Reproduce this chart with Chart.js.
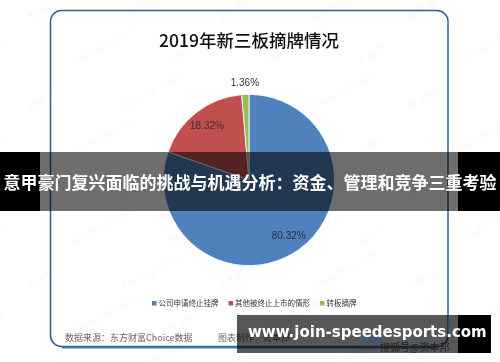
<!DOCTYPE html>
<html><head><meta charset="utf-8">
<script src="https://cdn.jsdelivr.net/npm/chart.js@4/dist/chart.umd.min.js"></script>
<style>html,body{margin:0;padding:0;background:#fff}#wrap{width:500px;height:362px}</style>
</head><body><div id="wrap"><canvas id="c" width="500" height="362"></canvas></div>
<script>
const chartTitle = "2019年新三板摘牌情况";
const categories = ["公司申请终止挂牌", "其他被终止上市的情形", "转板摘牌"];
const values = [80.32, 18.32, 1.36];
const valueLabels = ["80.32%", "18.32%", "1.36%"];
const colors = ["#4f81bd", "#c0504d", "#9bbb59"];
const sourceText = "数据来源：东方财富Choice数据";
const creditText = "图表制作：资本邦";
const bannerText = "意甲豪门复兴面临的挑战与机遇分析：资金、管理和竞争三重考验";
const siteText = "www.join-speedesports.com";

const CJK = '"Noto Sans CJK SC", "Noto Sans", sans-serif';

function roundRect(ctx, x, y, w, h, r) {
  ctx.beginPath();
  ctx.moveTo(x + r, y);
  ctx.lineTo(x + w - r, y);
  ctx.arcTo(x + w, y, x + w, y + r, r);
  ctx.lineTo(x + w, y + h - r);
  ctx.arcTo(x + w, y + h, x + w - r, y + h, r);
  ctx.lineTo(x + r, y + h);
  ctx.arcTo(x, y + h, x, y + h - r, r);
  ctx.lineTo(x, y + r);
  ctx.arcTo(x, y, x + r, y, r);
  ctx.closePath();
}

const decor = {
  id: 'decor',
  beforeDraw(chart) {
    const ctx = chart.ctx;
    ctx.save();
    ctx.fillStyle = '#fff';
    ctx.fillRect(0, 0, chart.width, chart.height);
    // faint watermarks
    ctx.fillStyle = 'rgba(0,0,0,0.04)';
    ctx.font = '10px "DejaVu Sans", sans-serif';
    for (let row = -1; row < 9; row++) {
      for (let col = -1; col < 6; col++) {
        ctx.save();
        const x = col * 95 + (row % 2) * 45 + 30;
        const y = row * 45 + 20;
        ctx.translate(x, y);
        ctx.rotate(-0.5);
        ctx.fillText((row + col) % 2 ? "Chinaipo.com" : "资本邦", 0, 0);
        ctx.restore();
      }
    }
    // card border
    ctx.strokeStyle = '#2f5f8f';
    ctx.lineWidth = 1.5;
    roundRect(ctx, 50.5, 10.5, 397.5, 336, 11);
    ctx.stroke();
    ctx.strokeStyle = '#3f78a8';
    ctx.lineWidth = 2;
    ctx.beginPath();
    ctx.moveTo(62, 347.5); ctx.lineTo(436, 347.5);
    ctx.stroke();
    // title
    ctx.fillStyle = '#111';
    ctx.font = '500 17.5px ' + CJK;
    ctx.textAlign = 'center';
    ctx.textBaseline = 'middle';
    ctx.fillText(chartTitle, 249, 40);
    ctx.restore();
  },
  afterDatasetsDraw(chart) {
    const ctx = chart.ctx;
    const meta = chart.getDatasetMeta(0);
    ctx.save();
    ctx.font = '10px "Liberation Sans", sans-serif';
    ctx.textAlign = 'center';
    ctx.textBaseline = 'middle';
    meta.data.forEach((arc, i) => {
      const p = arc.getProps(['x', 'y', 'startAngle', 'endAngle', 'outerRadius'], true);
      const mid = (p.startAngle + p.endAngle) / 2;
      const f = values[i] < 5 ? 1.13 : 0.8;
      const x = p.x + Math.cos(mid) * p.outerRadius * f;
      const y = p.y + Math.sin(mid) * p.outerRadius * f;
      ctx.fillStyle = i === 0 ? '#22324a' : '#333';
      ctx.fillText(valueLabels[i], x, y);
    });
    // legend
    ctx.font = '7.5px ' + CJK;
    ctx.textAlign = 'left';
    let lx = 152;
    categories.forEach((c, i) => {
      ctx.fillStyle = colors[i];
      ctx.fillRect(lx, 301, 4.5, 4.5);
      ctx.fillStyle = '#333';
      ctx.fillText(c, lx + 6.5, 303.5);
      lx += 6.5 + ctx.measureText(c).width + 10;
    });
    // source
    ctx.font = '9px ' + CJK;
    ctx.fillStyle = '#666';
    ctx.fillText(sourceText, 65, 338);
    ctx.fillText(creditText, 218, 338);
    ctx.restore();
  },
  afterDraw(chart) {
    const ctx = chart.ctx;
    ctx.save();
    // top banner
    ctx.fillStyle = '#000';
    ctx.fillRect(0, 152, 40, 59);
    ctx.fillRect(458, 152, 42, 59);
    ctx.fillStyle = 'rgba(0,0,0,0.57)';
    ctx.fillRect(40, 152, 418, 59);
    ctx.fillStyle = '#fff';
    ctx.font = 'bold 17px ' + CJK;
    ctx.textAlign = 'center';
    ctx.textBaseline = 'middle';
    ctx.fillText(bannerText, 250, 183);
    // bottom banner
    ctx.textAlign = 'left';
    ctx.fillStyle = 'rgba(0,0,0,0.66)';
    ctx.fillRect(237, 315, 221, 38);
    ctx.fillStyle = '#000';
    ctx.fillRect(458, 315, 33, 38);
    ctx.strokeStyle = 'rgba(40,80,120,0.9)';
    ctx.lineWidth = 1.5;
    ctx.beginPath(); ctx.moveTo(448.5, 315); ctx.lineTo(448.5, 337); ctx.stroke();
    ctx.fillStyle = '#2a5b92';
    ctx.font = 'bold 11px "DejaVu Sans", sans-serif';
    ctx.fillText('Chi', 362, 340);
    ctx.fillStyle = '#222';
    ctx.font = '10px ' + CJK;
    ctx.fillText('搜狐号@资本邦', 380, 347);
    ctx.fillStyle = '#fff';
    ctx.font = 'bold 15px "DejaVu Sans", sans-serif';
    ctx.fillText(siteText, 248, 333);
    ctx.restore();
  }
};

new Chart(document.getElementById('c'), {
  type: 'pie',
  data: {
    labels: categories,
    datasets: [{
      data: values,
      backgroundColor: colors,
      borderColor: '#ffffff',
      borderWidth: 0.8
    }]
  },
  options: {
    responsive: false,
    animation: false,
    layout: { padding: { top: 94, bottom: 96, left: 100, right: 102 } },
    plugins: { legend: { display: false }, title: { display: false }, tooltip: { enabled: false } }
  },
  plugins: [decor]
});
</script>
</body></html>
